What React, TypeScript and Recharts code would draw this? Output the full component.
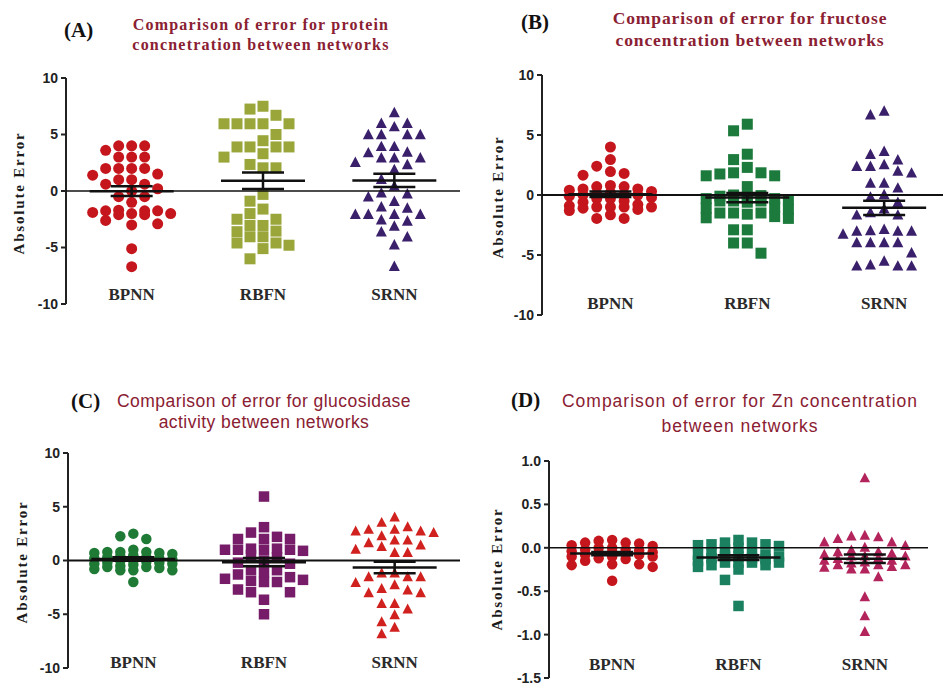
import React from 'react';
import { ScatterChart, Scatter, XAxis, YAxis, ReferenceLine } from 'recharts';

// ---------- data ----------
const categories = ['BPNN', 'RBFN', 'SRNN'];
const absTicks = [10, 5, 0, -5, -10];
const znTicks = [1.0, 0.5, 0.0, -0.5, -1.0, -1.5];

const proteinBPNN = [4.0, 4.0, 4.0, 3.6, 3.0, 3.0, 3.0, 2.0, 2.0, 2.0, 2.0, 1.5, 1.4, 1.0, 1.0, 0.6, 0.6, 0.2, 0.0, -0.5, -0.5, -1.0, -2.0, -1.9, -2.1, -1.75, -1.75, -1.7, -1.75, -2.1, -2.0, -2.6, -3.0, -2.9, -5.1, -6.7];
const proteinRBFN = [7.5, 7.25, 6.7, 5.95, 5.95, 5.95, 5.95, 5.95, 5.0, 4.45, 3.9, 3.9, 3.9, 3.9, 3.3, 3.0, 2.35, 2.05, 2.05, -0.3, -0.9, -1.6, -2.0, -2.5, -2.5, -3.05, -3.05, -3.55, -3.6, -4.05, -4.05, -4.6, -4.6, -4.8, -5.1, -6.0];
const proteinSRNN = [6.9, 5.95, 5.95, 5.65, 4.95, 4.95, 4.95, 4.95, 3.9, 3.9, 3.4, 3.35, 2.9, 2.9, 2.9, 2.5, 2.3, 1.85, 1.0, 0.4, -0.2, -0.3, -0.55, -0.95, -1.45, -1.55, -2.1, -2.1, -2.1, -2.1, -2.6, -2.7, -3.15, -3.65, -4.1, -4.8, -6.7];

const fructoseBPNN = [4.0, 2.95, 2.4, 1.95, 1.8, 1.65, 0.8, 0.7, 0.7, 0.5, 0.5, 0.4, 0.3, 0.2, 0.1, 0.0, 0.0, 0.0, -0.1, -0.2, -0.3, -0.3, -0.5, -0.6, -0.8, -0.9, -1.0, -1.0, -1.0, -1.0, -1.1, -1.2, -1.3, -1.65, -1.95, -1.95];
const fructoseRBFN = [5.9, 5.35, 3.4, 2.95, 2.3, 1.85, 1.85, 1.75, 1.6, 1.6, 0.7, 0.0, -0.05, -0.1, -0.3, -0.3, -0.3, -0.4, -0.5, -0.5, -0.5, -0.6, -1.0, -1.1, -1.2, -1.5, -1.5, -1.5, -1.6, -1.8, -1.9, -1.95, -2.9, -2.9, -4.0, -4.0, -4.85];
const fructoseSRNN = [6.95, 6.65, 3.6, 3.35, 2.9, 2.5, 2.35, 2.35, 1.95, 1.8, 0.95, 0.95, 0.55, 0.0, -0.2, -0.65, -1.2, -1.5, -1.7, -1.7, -2.9, -3.0, -3.05, -3.05, -3.05, -3.3, -4.0, -4.0, -4.0, -4.0, -4.85, -5.55, -5.85, -5.95, -5.95, -5.95];

const glucoBPNN = [2.5, 2.25, 2.0, 1.0, 0.8, 0.8, 0.8, 0.7, 0.7, 0.6, 0.5, 0.4, 0.3, 0.3, 0.2, 0.2, 0.1, 0.0, 0.0, -0.1, -0.2, -0.2, -0.3, -0.3, -0.4, -0.5, -0.6, -0.6, -0.7, -0.8, -0.9, -0.9, -0.9, -2.0];
const glucoRBFN = [5.95, 3.1, 2.6, 2.2, 2.0, 2.0, 2.0, 1.1, 1.1, 1.0, 1.0, 1.0, 1.0, 0.9, 0.5, 0.3, 0.0, -0.2, -0.3, -0.9, -0.9, -1.1, -1.3, -1.55, -1.7, -1.8, -1.9, -2.0, -2.0, -2.7, -2.95, -2.95, -3.65, -5.0];
const glucoSRNN = [4.0, 3.5, 3.1, 2.85, 2.85, 2.7, 2.7, 2.55, 2.25, 1.85, 1.85, 1.6, 1.4, 1.25, 1.0, 0.7, 0.7, -1.2, -1.2, -1.55, -1.55, -1.55, -2.1, -2.3, -2.65, -2.8, -3.05, -3.05, -4.05, -4.05, -4.55, -5.1, -5.75, -6.25, -6.85];

const znBPNN = [0.09, 0.08, 0.06, 0.06, 0.05, 0.03, 0.02, 0.0, 0.0, -0.02, -0.02, -0.03, -0.04, -0.05, -0.05, -0.06, -0.07, -0.08, -0.08, -0.1, -0.1, -0.1, -0.12, -0.13, -0.15, -0.19, -0.19, -0.2, -0.22, -0.38];
const znRBFN = [0.09, 0.06, 0.06, 0.04, 0.04, 0.03, 0.02, 0.0, -0.02, -0.05, -0.06, -0.08, -0.08, -0.1, -0.1, -0.1, -0.12, -0.12, -0.13, -0.15, -0.17, -0.17, -0.17, -0.17, -0.2, -0.2, -0.22, -0.25, -0.37, -0.67];
const znSRNN = [0.8, 0.14, 0.13, 0.12, 0.1, 0.06, 0.06, 0.02, 0.0, -0.03, -0.05, -0.05, -0.07, -0.08, -0.1, -0.1, -0.1, -0.12, -0.13, -0.15, -0.15, -0.17, -0.18, -0.2, -0.2, -0.2, -0.22, -0.23, -0.25, -0.25, -0.34, -0.57, -0.79, -0.97];

// ---------- helpers ----------
type Kind = 'circle' | 'square' | 'triangle';

function swarm(values: number[], center: number, slotUnits: number, pxPerUnitY: number, diameterPx: number, maxSlot = 3) {
  const sorted = [...values].sort((a, b) => b - a);
  const order: number[] = [0];
  for (let k = 1; k <= maxSlot; k++) { order.push(-k); order.push(k); }
  const placed: { slot: number; v: number }[] = [];
  const out: { x: number; y: number }[] = [];
  for (const v of sorted) {
    let chosen = 0;
    let bestDist = -1;
    for (const slot of order) {
      let minD = Infinity;
      for (const q of placed) {
        if (q.slot === slot) minD = Math.min(minD, Math.abs(q.v - v) * pxPerUnitY);
      }
      if (minD >= diameterPx) { chosen = slot; bestDist = Infinity; break; }
      if (minD > bestDist) { bestDist = minD; chosen = slot; }
    }
    placed.push({ slot: chosen, v });
    out.push({ x: center + chosen * slotUnits, y: v });
  }
  return out;
}

function meanSem(values: number[]) {
  const n = values.length;
  const mean = values.reduce((a, b) => a + b, 0) / n;
  const sd = Math.sqrt(values.reduce((a, b) => a + (b - mean) * (b - mean), 0) / (n - 1));
  return { mean, sem: sd / Math.sqrt(n) };
}

const makeShape = (kind: Kind, color: string, size: number) => (props: any) => {
  const { cx, cy } = props;
  if (cx == null || cy == null || isNaN(cx) || isNaN(cy)) return <g />;
  const r = size / 2;
  if (kind === 'circle') return <circle cx={cx} cy={cy} r={r} fill={color} />;
  if (kind === 'square') return <rect x={cx - r} y={cy - r} width={size} height={size} fill={color} />;
  const h = size * 0.95;
  return <polygon points={`${cx},${cy - h * 0.6} ${cx - r},${cy + h * 0.4} ${cx + r},${cy + h * 0.4}`} fill={color} />;
};

// ---------- panel config (layout/style) ----------
const serif = '"Liberation Serif", "Times New Roman", serif';
const sans = 'Arial, "Liberation Sans", sans-serif';

const panels = [
  {
    letter: '(A)', letterPos: { left: 64, top: 18 },
    title: ['Comparison of error for protein', 'concnetration between networks'],
    titleStyle: { fontFamily: serif, fontWeight: 700, fontSize: 16, letterSpacing: 1.2, lineHeight: '20px' },
    titleCenter: 261, titleTop: 15,
    series: [proteinBPNN, proteinRBFN, proteinSRNN],
    colors: ['#c4161c', '#9aa63a', '#3a1f6b'],
    kinds: ['circle', 'square', 'triangle'] as Kind[],
    left: 0, top: 0, width: 470, height: 330, axisW: 66, mTop: 78, mBottom: 25, mRight: 10, xMax: 3,
    yDomain: [-10, 10], ticks: absTicks, fmt: (v: number) => String(v),
    slotPx: 13, size: 11, catDy: -3, zeroW: 1.5,
    yLabel: { x: 19, y: 193 },
  },
  {
    letter: '(B)', letterPos: { left: 521, top: 10 },
    title: ['Comparison of error for fructose', 'concentration between networks'],
    titleStyle: { fontFamily: serif, fontWeight: 700, fontSize: 17.5, letterSpacing: 0.9, lineHeight: '22px' },
    titleCenter: 750, titleTop: 7,
    series: [fructoseBPNN, fructoseRBFN, fructoseSRNN],
    colors: ['#c4161c', '#1c7a3c', '#3a1f6b'],
    kinds: ['circle', 'square', 'triangle'] as Kind[],
    left: 470, top: 0, width: 473, height: 330, axisW: 72, mTop: 75, mBottom: 14, mRight: 0, xMax: 2.93,
    yDomain: [-10, 10], ticks: absTicks, fmt: (v: number) => String(v),
    slotPx: 13.7, size: 11, catDy: -5, zeroW: 2,
    yLabel: { x: 498, y: 197 },
  },
  {
    letter: '(C)', letterPos: { left: 71, top: 389 },
    title: ['Comparison of error for glucosidase', 'activity between networks'],
    titleStyle: { fontFamily: sans, fontWeight: 400, fontSize: 17.5, letterSpacing: 0.45, lineHeight: '21px' },
    titleCenter: 264, titleTop: 391,
    series: [glucoBPNN, glucoRBFN, glucoSRNN],
    colors: ['#1f7a35', '#761c68', '#d0211f'],
    kinds: ['circle', 'square', 'triangle'] as Kind[],
    left: 0, top: 370, width: 470, height: 318, axisW: 68, mTop: 83, mBottom: 19, mRight: 10, xMax: 3,
    yDomain: [-10, 10], ticks: absTicks, fmt: (v: number) => String(v),
    slotPx: 13, size: 10.5, catDy: 1, zeroW: 2,
    yLabel: { x: 22, y: 562 },
  },
  {
    letter: '(D)', letterPos: { left: 511, top: 388 },
    title: ['Comparison of error for Zn concentration', 'between networks'],
    titleStyle: { fontFamily: sans, fontWeight: 400, fontSize: 17.5, letterSpacing: 1.0, lineHeight: '25px' },
    titleCenter: 740, titleTop: 389,
    series: [znBPNN, znRBFN, znSRNN],
    colors: ['#c4161c', '#1a8060', '#b3245c'],
    kinds: ['circle', 'square', 'triangle'] as Kind[],
    left: 470, top: 370, width: 473, height: 318, axisW: 79, mTop: 91, mBottom: 9, mRight: 15, xMax: 3,
    yDomain: [-1.5, 1.0], ticks: znTicks, fmt: (v: number) => v.toFixed(1),
    slotPx: 13.5, size: 10.5, catDy: -7, zeroW: 1.5,
    yLabel: { x: 497, y: 569 },
  },
];

function Panel({ cfg }: { cfg: any }) {
  const plotW = cfg.width - cfg.axisW - cfg.mRight;
  const plotH = cfg.height - cfg.mTop - cfg.mBottom - 1;
  const pxX = plotW / cfg.xMax;
  const pxY = plotH / (cfg.yDomain[1] - cfg.yDomain[0]);
  const slotUnits = cfg.slotPx / pxX;
  const meanHalf = 42 / pxX;
  const capHalf = 21 / pxX;
  const centers = [0.5, 1.5, 2.5];

  const renderCatTick = (props: any) => {
    const { x, y, payload } = props;
    return (
      <text x={x} y={y - 1 + cfg.catDy} textAnchor="middle" fontFamily={serif} fontWeight={700} fontSize={17} fill="#2a2a2a">
        {categories[Math.floor(payload.value)]}
      </text>
    );
  };

  return (
    <div style={{ position: 'absolute', left: cfg.left, top: cfg.top, width: cfg.width, height: cfg.height }}>
      <ScatterChart width={cfg.width} height={cfg.height} margin={{ top: cfg.mTop, right: cfg.mRight, bottom: cfg.mBottom, left: 0 }}>
        <XAxis type="number" dataKey="x" domain={[0, cfg.xMax]} ticks={centers} allowDataOverflow
          axisLine={false} tickLine={false} tickSize={0} tickMargin={0} height={1} tick={renderCatTick} interval={0} />
        <YAxis type="number" dataKey="y" domain={cfg.yDomain} ticks={cfg.ticks} width={cfg.axisW} interval={0}
          allowDataOverflow tickFormatter={cfg.fmt}
          axisLine={{ stroke: '#222', strokeWidth: 2 }} tickLine={{ stroke: '#222', strokeWidth: 2 }} tickSize={5} tickMargin={3}
          tick={{ fontFamily: sans, fontWeight: 700, fontSize: 14, fill: '#222' }} />
        {cfg.series.map((vals: number[], i: number) => (
          <Scatter key={'s' + i} data={swarm(vals, centers[i], slotUnits, pxY, cfg.size)}
            shape={makeShape(cfg.kinds[i], cfg.colors[i], cfg.size)} isAnimationActive={false} />
        ))}
        <ReferenceLine y={0} stroke="#111" strokeWidth={cfg.zeroW} zIndex={700} />
        {cfg.series.map((vals: number[], i: number) => {
          const { mean, sem } = meanSem(vals);
          const c = centers[i];
          return [
            <ReferenceLine key={'m' + i} segment={[{ x: c - meanHalf, y: mean }, { x: c + meanHalf, y: mean }]} stroke="#111" strokeWidth={2.5} ifOverflow="visible" zIndex={710} />,
            <ReferenceLine key={'u' + i} segment={[{ x: c - capHalf, y: mean + sem }, { x: c + capHalf, y: mean + sem }]} stroke="#111" strokeWidth={2.5} ifOverflow="visible" zIndex={710} />,
            <ReferenceLine key={'l' + i} segment={[{ x: c - capHalf, y: mean - sem }, { x: c + capHalf, y: mean - sem }]} stroke="#111" strokeWidth={2.5} ifOverflow="visible" zIndex={710} />,
            <ReferenceLine key={'v' + i} segment={[{ x: c, y: mean - sem }, { x: c, y: mean + sem }]} stroke="#111" strokeWidth={2.5} ifOverflow="visible" zIndex={710} />,
          ];
        })}
      </ScatterChart>
    </div>
  );
}

export default function App() {
  return (
    <div style={{ position: 'absolute', left: 0, top: 0, width: 943, height: 688, overflow: 'hidden', background: '#fff' }}>
      {panels.map((cfg, idx) => (
        <React.Fragment key={idx}>
          <Panel cfg={cfg} />
          <div style={{ position: 'absolute', left: cfg.letterPos.left, top: cfg.letterPos.top, fontFamily: serif, fontWeight: 700, fontSize: 21, color: '#111', lineHeight: '24px' }}>
            {cfg.letter}
          </div>
          <div style={{ position: 'absolute', left: cfg.titleCenter - 220, width: 440, top: cfg.titleTop, textAlign: 'center', color: '#8a2032', whiteSpace: 'nowrap', ...cfg.titleStyle }}>
            <div>{cfg.title[0]}</div>
            <div>{cfg.title[1]}</div>
          </div>
          <div style={{ position: 'absolute', left: cfg.yLabel.x - 80, top: cfg.yLabel.y - 10, width: 160, height: 20, lineHeight: '20px', textAlign: 'center', transform: 'rotate(-90deg)', fontFamily: serif, fontWeight: 700, fontSize: 15, letterSpacing: 1.8, color: '#1a1a1a', whiteSpace: 'nowrap' }}>
            Absolute Error
          </div>
        </React.Fragment>
      ))}
    </div>
  );
}
